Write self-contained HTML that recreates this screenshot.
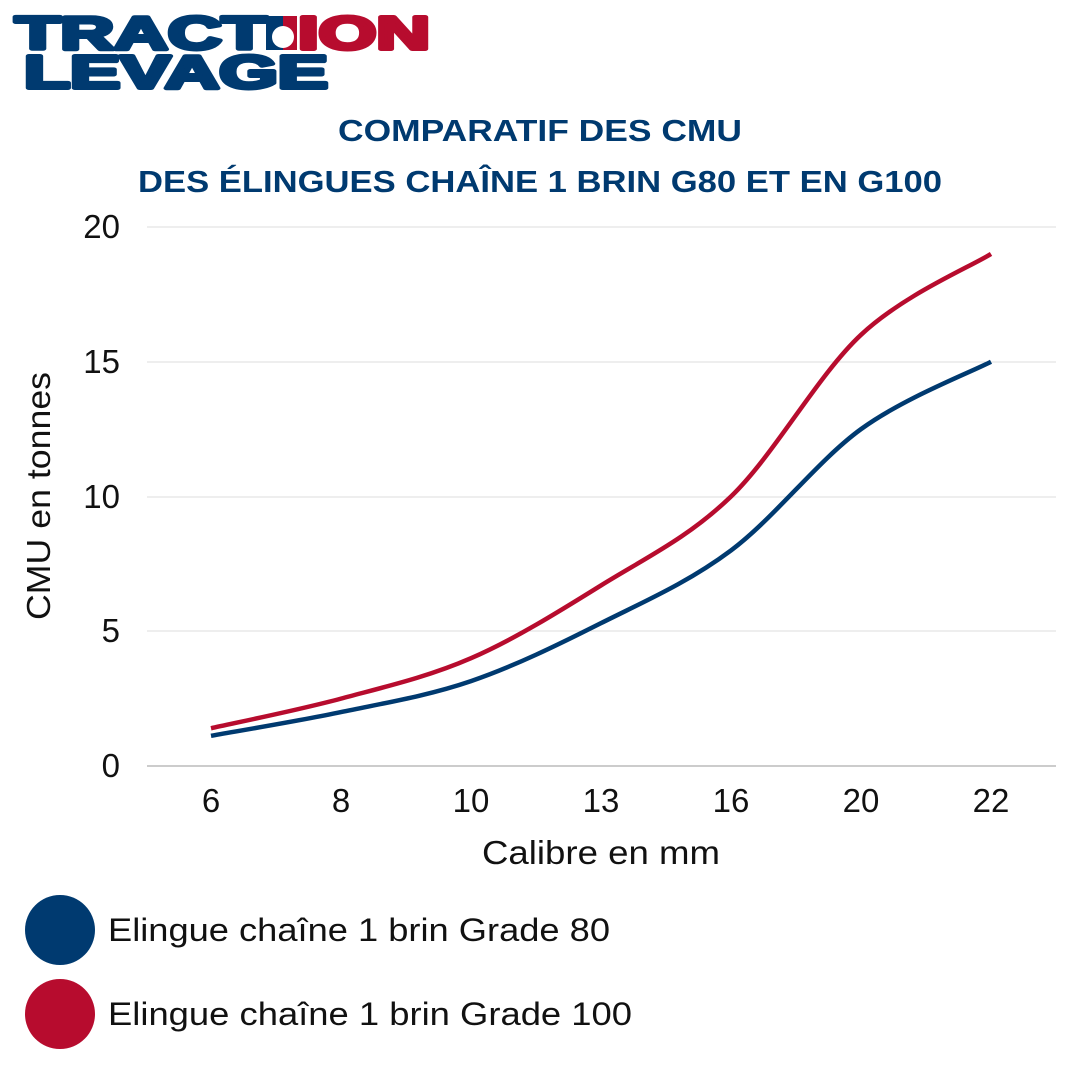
<!DOCTYPE html>
<html><head><meta charset="utf-8"><style>
body{margin:0;width:1080px;height:1080px;background:#fff;overflow:hidden;font-family:"Liberation Sans",sans-serif}
</style></head><body>
<svg width="1080" height="1080" viewBox="0 0 1080 1080" xmlns="http://www.w3.org/2000/svg" font-family="Liberation Sans, sans-serif">
<g font-weight="900" font-family="Liberation Sans, sans-serif" stroke-width="4" stroke-linejoin="round">
<text x="15" y="49" font-size="46" fill="#003a70" stroke="#003a70" textLength="252" lengthAdjust="spacingAndGlyphs">TRACT</text>
<rect x="266" y="16" width="17" height="34" fill="#003a70"/>
<rect x="283" y="16" width="14" height="34" fill="#b70c2e"/>
<circle cx="283" cy="37" r="11" fill="#fff"/>
<text x="298" y="49" font-size="46" fill="#b70c2e" stroke="#b70c2e" textLength="132" lengthAdjust="spacingAndGlyphs">ION</text>
<text x="24" y="88" font-size="46" fill="#003a70" stroke="#003a70" textLength="304" lengthAdjust="spacingAndGlyphs">LEVAGE</text>
</g>
<g font-weight="bold" fill="#003a70" font-size="31" text-anchor="middle">
<text x="540" y="141" textLength="404" lengthAdjust="spacingAndGlyphs">COMPARATIF DES CMU</text>
<text x="540" y="192" textLength="804" lengthAdjust="spacingAndGlyphs">DES ÉLINGUES CHAÎNE 1 BRIN G80 ET EN G100</text>
</g>
<g stroke="#dedede" stroke-width="1">
<line x1="147" y1="227" x2="1056" y2="227"/><line x1="147" y1="362" x2="1056" y2="362"/>
<line x1="147" y1="497" x2="1056" y2="497"/><line x1="147" y1="631" x2="1056" y2="631"/>
</g>
<line x1="147" y1="766" x2="1056" y2="766" stroke="#bbb" stroke-width="1.5"/>
<g font-size="33" fill="#111" text-anchor="end">
<text x="120" y="238">20</text><text x="120" y="373">15</text><text x="120" y="508">10</text><text x="120" y="642">5</text><text x="120" y="777">0</text>
</g>
<g font-size="33" fill="#111" text-anchor="middle">
<text x="211" y="812">6</text><text x="341" y="812">8</text><text x="471" y="812">10</text><text x="601" y="812">13</text><text x="731" y="812">16</text><text x="861" y="812">20</text><text x="991" y="812">22</text>
<text x="601" y="864" textLength="238" lengthAdjust="spacingAndGlyphs">Calibre en mm</text>
<text transform="translate(50,496) rotate(-90)" textLength="248" lengthAdjust="spacingAndGlyphs">CMU en tonnes</text>
</g>
<path id="g80" fill="none" stroke="#003a70" stroke-width="4.5"/>
<path id="g100" fill="none" stroke="#b70c2e" stroke-width="4.5"/>
<circle cx="60" cy="930" r="35" fill="#003a70"/>
<circle cx="60" cy="1014" r="35" fill="#b70c2e"/>
<g font-size="32" fill="#111">
<text x="108" y="941" textLength="502" lengthAdjust="spacingAndGlyphs">Elingue chaîne 1 brin Grade 80</text>
<text x="108" y="1025" textLength="524" lengthAdjust="spacingAndGlyphs">Elingue chaîne 1 brin Grade 100</text>
</g>
</svg>
<script>
function path(vals){
 var p=vals.map(function(v,i){return [211+130*i,766-v*26.95]});
 var d="M"+p[0][0]+","+p[0][1];
 for(var i=0;i<p.length-1;i++){
  var p0=p[i-1]||p[i],p1=p[i],p2=p[i+1],p3=p[i+2]||p[i+1];
  var c1=[p1[0]+(p2[0]-p0[0])/6,p1[1]+(p2[1]-p0[1])/6];
  var c2=[p2[0]-(p3[0]-p1[0])/6,p2[1]-(p3[1]-p1[1])/6];
  d+=" C"+c1+" "+c2+" "+p2;
 }
 return d;
}
document.getElementById("g80").setAttribute("d",path([1.12,2,3.15,5.3,8,12.5,15]));
document.getElementById("g100").setAttribute("d",path([1.4,2.5,4,6.7,10,16,19]));
</script>
</body></html>
